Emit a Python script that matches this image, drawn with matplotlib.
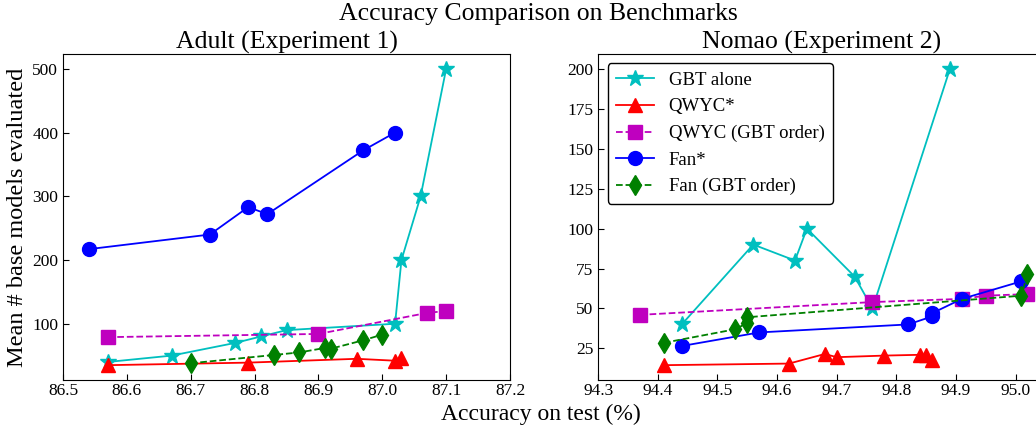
import matplotlib

matplotlib.use("Agg")
import matplotlib.pyplot as plt

plt.rcParams["font.family"] = ["Liberation Serif", "DejaVu Serif"]

# ---- Adult (Experiment 1) ----
adult_gbt_x = [86.57, 86.67, 86.77, 86.81, 86.85, 87.02, 87.03, 87.06, 87.10]
adult_gbt_y = [40, 50, 70, 80, 90, 100, 200, 300, 500]
adult_qwyc_x = [86.57, 86.79, 86.96, 87.02, 87.03]
adult_qwyc_y = [35, 39, 45, 42, 46]
adult_qwyc_gbt_x = [86.57, 86.90, 87.07, 87.10]
adult_qwyc_gbt_y = [79, 84, 117, 120]
adult_fan_x = [86.54, 86.73, 86.79, 86.82, 86.97, 87.02]
adult_fan_y = [217, 240, 283, 272, 372, 400]
adult_fan_gbt_x = [86.70, 86.83, 86.87, 86.91, 86.92, 86.97, 87.00]
adult_fan_gbt_y = [38, 51, 55, 62, 61, 74, 83]

# ---- Nomao (Experiment 2) ----
nomao_gbt_x = [94.44, 94.56, 94.63, 94.65, 94.73, 94.76, 94.89]
nomao_gbt_y = [40, 90, 80, 100, 70, 50, 200]
nomao_qwyc_x = [94.41, 94.62, 94.68, 94.70, 94.78, 94.84, 94.85, 94.86]
nomao_qwyc_y = [14.5, 15.5, 21.5, 19.5, 20.5, 21, 21, 18]
nomao_qwyc_gbt_x = [94.37, 94.76, 94.91, 94.95, 95.02]
nomao_qwyc_gbt_y = [46, 54, 56, 58, 59]
nomao_fan_x = [94.44, 94.57, 94.82, 94.86, 94.86, 94.91, 95.01]
nomao_fan_y = [26.5, 35, 40, 45, 47, 56, 67]
nomao_fan_gbt_x = [94.41, 94.53, 94.55, 94.55, 95.01, 95.02]
nomao_fan_gbt_y = [28.5, 37, 41, 44.5, 58, 71.5]

labels = ["GBT alone", "QWYC*", "QWYC (GBT order)", "Fan*", "Fan (GBT order)"]
styles = [
    dict(color="c", marker="*", ls="-", ms=12),
    dict(color="r", marker="^", ls="-", ms=10),
    dict(color="m", marker="s", ls="--", ms=10),
    dict(color="b", marker="o", ls="-", ms=10),
    dict(color="g", marker="d", ls="--", ms=10),
]

fig = plt.figure(figsize=(10.36, 4.25), dpi=100)
# right panel runs past the figure edge, as in the (cropped) original
ax1 = fig.add_axes([0.0608, 0.1059, 0.4315, 0.767])
ax2 = fig.add_axes([0.5775, 0.1059, 0.4315, 0.767])

adult = [(adult_gbt_x, adult_gbt_y), (adult_qwyc_x, adult_qwyc_y),
         (adult_qwyc_gbt_x, adult_qwyc_gbt_y), (adult_fan_x, adult_fan_y),
         (adult_fan_gbt_x, adult_fan_gbt_y)]
nomao = [(nomao_gbt_x, nomao_gbt_y), (nomao_qwyc_x, nomao_qwyc_y),
         (nomao_qwyc_gbt_x, nomao_qwyc_gbt_y), (nomao_fan_x, nomao_fan_y),
         (nomao_fan_gbt_x, nomao_fan_gbt_y)]

for (x, y), lab, st in zip(adult, labels, styles):
    ax1.plot(x, y, label=lab, lw=1.3, **st)
for (x, y), lab, st in zip(nomao, labels, styles):
    ax2.plot(x, y, label=lab, lw=1.3, **st)

ax1.set_xlim(86.5, 87.2)
ax1.set_xticks([86.5, 86.6, 86.7, 86.8, 86.9, 87.0, 87.1, 87.2])
ax1.set_yticks([100, 200, 300, 400, 500])
ax2.set_xlim(94.3, 95.05)
ax2.set_xticks([94.3, 94.4, 94.5, 94.6, 94.7, 94.8, 94.9, 95.0])
ax2.set_yticks([25, 50, 75, 100, 125, 150, 175, 200])

for ax in (ax1, ax2):
    ax.tick_params(direction="in", length=4.5, labelsize=12.5)
    ax.tick_params(axis="x", pad=2)
    ax.xaxis.set_major_formatter(matplotlib.ticker.FormatStrFormatter("%.1f"))

ax1.set_title("Adult (Experiment 1)", fontsize=18.5, pad=3)
ax2.set_title("Nomao (Experiment 2)", fontsize=18.5, pad=3)
ax1.set_ylabel("Mean # base models evaluated", fontsize=17.5, labelpad=3)
fig.text(0.52, 0.992, "Accuracy Comparison on Benchmarks", ha="center", va="top", fontsize=18.5)
fig.text(0.522, 0.0, "Accuracy on test (%)", ha="center", va="bottom", fontsize=17)

leg = ax2.legend(loc="upper left", fontsize=13.5, framealpha=1, edgecolor="black",
                 handlelength=2.0, borderpad=0.45, labelspacing=0.5)
leg.get_frame().set_linewidth(1.0)

fig.savefig("out.png", dpi=100)
